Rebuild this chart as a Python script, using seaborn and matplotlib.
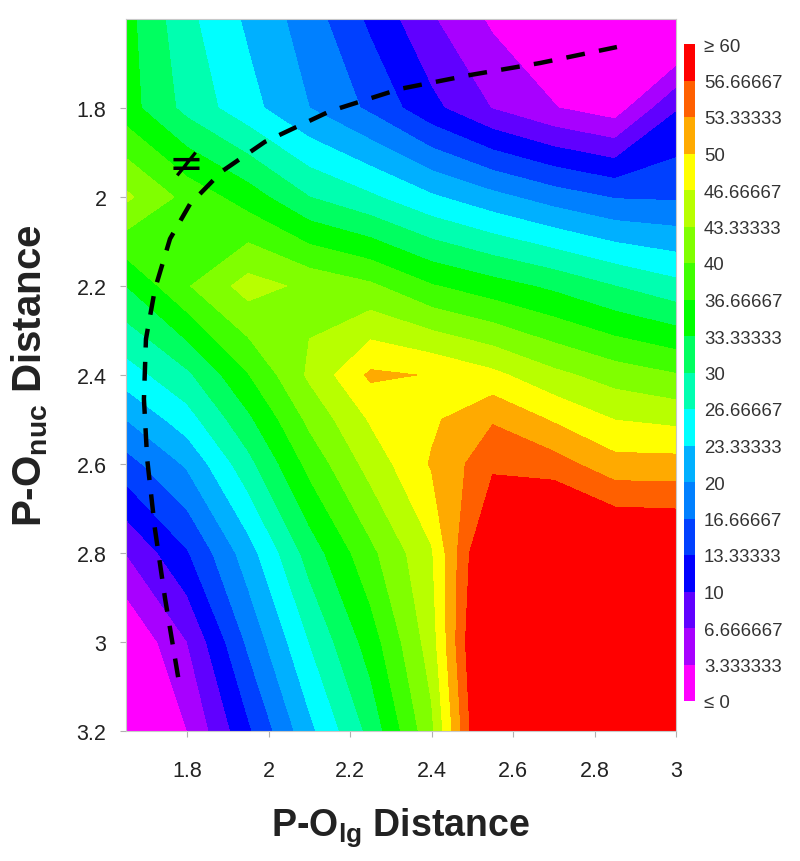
import numpy as np
import matplotlib
matplotlib.use('Agg')
import matplotlib.pyplot as plt
from matplotlib.cm import ScalarMappable
from matplotlib.colors import BoundaryNorm, ListedColormap
import seaborn as sns

# grid of the free energy surface
p_olg = [1.65, 1.8, 1.95, 2.1, 2.25, 2.4, 2.55, 2.7, 2.85, 3.0]
p_onuc = [1.6, 1.8, 2.0, 2.2, 2.4, 2.5, 2.6, 2.8, 3.0, 3.2]
energy = [
    [34.5, 27.5, 22.7, 18.3, 12.6, 7.0, 2.7, 0.5, -2.0, -4.0],
    [34.8, 28.9, 24.5, 20.0, 16.0, 10.9, 6.5, 3.5, 1.5, 9.7],
    [44.0, 38.9, 35.0, 30.0, 27.2, 23.8, 21.0, 18.4, 16.4, 16.2],
    [33.3, 39.7, 44.7, 42.5, 40.6, 36.9, 34.7, 32.6, 30.0, 27.7],
    [25.0, 29.3, 36.5, 43.9, 50.6, 49.8, 47.5, 44.2, 41.8, 40.2],
    [20.0, 25.2, 32.6, 40.8, 47.0, 49.4, 53.0, 49.6, 46.6, 45.8],
    [15.3, 20.5, 28.9, 37.7, 44.6, 50.3, 55.8, 54.8, 51.2, 51.2],
    [6.7, 13.0, 21.8, 31.4, 39.1, 46.3, 63.0, 65.0, 62.5, 62.0],
    [-0.2, 6.6, 17.3, 26.7, 34.9, 45.0, 66.0, 70.0, 70.0, 70.0],
    [-6.0, 3.3, 12.7, 22.4, 31.0, 42.5, 65.0, 72.0, 72.0, 72.0],
]

# reaction path (dashed)
path_x = [1.778, 1.746, 1.721, 1.702, 1.694, 1.699, 1.721, 1.758, 1.807, 1.886,
          1.991, 2.151, 2.323, 2.494, 2.666, 2.855]
path_y = [3.079, 2.903, 2.746, 2.589, 2.454, 2.319, 2.207, 2.094, 2.016, 1.942,
          1.876, 1.807, 1.757, 1.726, 1.699, 1.663]

levels = [0, 3.333333, 6.666667, 10, 13.33333, 16.66667, 20, 23.33333, 26.66667, 30,
          33.33333, 36.66667, 40, 43.33333, 46.66667, 50, 53.33333, 56.66667, 60]
level_labels = ['≤ 0', '3.333333', '6.666667', '10', '13.33333', '16.66667', '20',
                '23.33333', '26.66667', '30', '33.33333', '36.66667', '40', '43.33333',
                '46.66667', '50', '53.33333', '56.66667', '≥ 60']
band_colors = ['#ff00ff', '#a800ff', '#6000ff', '#0000ff', '#0040ff', '#0080ff',
               '#00b0ff', '#00ffff', '#00ffb0', '#00ff60', '#00ff00', '#40ff00',
               '#80ff00', '#b8ff00', '#ffff00', '#ffaa00', '#ff6000', '#ff0000']

x_ticks = [1.8, 2, 2.2, 2.4, 2.6, 2.8, 3]
y_ticks = [1.8, 2, 2.2, 2.4, 2.6, 2.8, 3, 3.2]

sns.set_theme(style='white')
plt.rcParams['font.family'] = ['Liberation Sans', 'DejaVu Sans']
plt.rcParams['mathtext.fontset'] = 'custom'
plt.rcParams['mathtext.bf'] = 'Liberation Sans:bold'
plt.rcParams['mathtext.rm'] = 'Liberation Sans'

fig = plt.figure(figsize=(8, 8.62), dpi=100)
ax = fig.add_axes([126 / 800, 1 - 732 / 862, 550 / 800, 712 / 862])
cax = fig.add_axes([684 / 800, 1 - 702 / 862, 11 / 800, 657 / 862])

cmap = ListedColormap(band_colors)
cmap.set_under(band_colors[0])
cmap.set_over(band_colors[-1])
norm = BoundaryNorm(levels, cmap.N)

ax.contourf(p_olg, p_onuc, np.array(energy), levels=levels, cmap=cmap, norm=norm,
            extend='both', antialiased=False)

path = sns.lineplot(x=path_x, y=path_y, sort=False, estimator=None, color='black',
                    linewidth=3.2, ax=ax)
path.lines[0].set_dashes((4.24, 3.23))
path.lines[0].set_dash_capstyle('butt')

ax.text(1.797, 1.925, '≠', fontsize=30, color='black', ha='center', va='center',
        family=['DejaVu Sans'])

ax.set_xlim(1.65, 3.0)
ax.set_ylim(3.2, 1.6)
ax.set_xticks(x_ticks)
ax.set_xticklabels([f'{t:g}' for t in x_ticks])
ax.set_yticks(y_ticks)
ax.set_yticklabels([f'{t:g}' for t in y_ticks])
ax.tick_params(axis='both', labelsize=15.5, length=4, width=0.8, color='#b0b0b0',
               labelcolor='#222222', bottom=True, left=True)
ax.tick_params(axis='x', pad=17)
ax.tick_params(axis='y', pad=10)
for spine in ax.spines.values():
    spine.set_edgecolor('#c8c8c8')
    spine.set_linewidth(0.8)

ax.set_xlabel(r'P-O$_{\mathbf{lg}}$ Distance', fontsize=27, fontweight='bold', color='#222222')
ax.set_ylabel(r'P-O$_{\mathbf{nuc}}$ Distance', fontsize=29, fontweight='bold', color='#222222')
ax.xaxis.set_label_coords(274 / 550, -74 / 712)
ax.yaxis.set_label_coords(-76 / 550, 356 / 712)

cb = fig.colorbar(ScalarMappable(norm=norm, cmap=cmap), cax=cax, ticks=levels,
                  spacing='uniform', extend='neither')
cb.ax.set_yticklabels(level_labels)
cb.ax.tick_params(labelsize=13.4, length=0, pad=6.5, labelcolor='#333333')
cb.outline.set_visible(False)

fig.savefig('out.png', dpi=100)
